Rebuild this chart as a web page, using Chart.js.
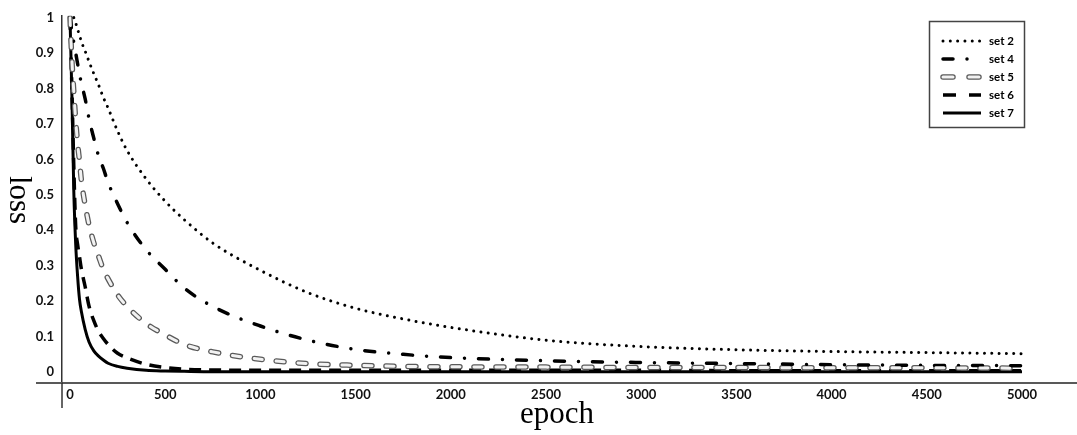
<!DOCTYPE html>
<html>
<head>
<meta charset="utf-8">
<script src="https://cdn.jsdelivr.net/npm/chart.js@4.4.1/dist/chart.umd.min.js"></script>
<style>
  html, body { margin: 0; padding: 0; background: #fff; }
  #wrap { width: 1077px; height: 435px; position: relative; }
</style>
</head>
<body>
<div id="wrap"><canvas id="lossChart"></canvas></div>
<script>
// epochs shared by every series
const epochs = [0, 10, 20, 30, 40, 50, 60, 80, 100, 125, 150, 175, 200, 250, 300,
                400, 500, 600, 750, 1000, 1250, 1500, 1750, 2000, 2500, 3000, 3500, 4000, 4500, 5000];

const set2 = [null, null, 1.0, 0.985, 0.967, 0.95, 0.932, 0.905, 0.876, 0.842, 0.81, 0.775, 0.745, 0.68, 0.625,
              0.545, 0.482, 0.43, 0.364, 0.287, 0.224, 0.18, 0.15, 0.126, 0.09, 0.072, 0.063, 0.058, 0.055, 0.052];
const set4 = [1.0, 0.96, 0.93, 0.9, 0.87, 0.84, 0.815, 0.77, 0.715, 0.66, 0.61, 0.575, 0.535, 0.475, 0.422,
              0.345, 0.29, 0.237, 0.185, 0.13, 0.09, 0.064, 0.05, 0.041, 0.032, 0.027, 0.024, 0.021, 0.019, 0.018];
const set5 = [1.0, 0.88, 0.79, 0.71, 0.645, 0.595, 0.54, 0.47, 0.415, 0.365, 0.327, 0.29, 0.263, 0.218, 0.185,
              0.137, 0.105, 0.078, 0.057, 0.036, 0.024, 0.019, 0.016, 0.015, 0.014, 0.013, 0.013, 0.012, 0.012, 0.011];
const set6 = [1.0, 0.8, 0.58, 0.41, 0.36, 0.325, 0.29, 0.24, 0.186, 0.145, 0.115, 0.095, 0.078, 0.053, 0.04,
              0.022, 0.013, 0.008, 0.006, 0.005, 0.005, 0.005, 0.005, 0.005, 0.005, 0.005, 0.004, 0.004, 0.004, 0.004];
const set7 = [1.0, 0.78, 0.51, 0.36, 0.27, 0.205, 0.17, 0.12, 0.085, 0.06, 0.045, 0.034, 0.025, 0.016, 0.011,
              0.005, 0.003, 0.002, 0.001, 0.001, 0.001, 0.001, 0.001, 0.001, 0.001, 0.001, 0.001, 0.001, 0.001, 0.001];

const seriesNames = ['set 2', 'set 4', 'set 5', 'set 6', 'set 7'];
const xTicks = [0, 500, 1000, 1500, 2000, 2500, 3000, 3500, 4000, 4500, 5000];
const yTicks = [0, 0.1, 0.2, 0.3, 0.4, 0.5, 0.6, 0.7, 0.8, 0.9, 1];

const toPoints = arr => epochs.map((e, i) => ({ x: e, y: arr[i] }));

// line looks, shared by the plotted lines and the legend samples
const looks = {
    'set 2': [{ color: '#000', width: 3, dash: [0.01, 7.3], cap: 'round' }],
    'set 4': [{ color: '#000', width: 3.5, dash: [10, 14, 0.01, 14], cap: 'round' }],
    'set 5': [{ color: '#5a5a5a', width: 5.5, dash: [8, 14], cap: 'round', legendDash: [10, 16] },
              { color: '#f2f2f2', width: 3, dash: [8, 14], cap: 'round', legendDash: [10, 16] }],
    'set 6': [{ color: '#000', width: 3.5, dash: [12, 8], cap: 'butt', legendDash: [13, 13] }],
    'set 7': [{ color: '#000', width: 3, dash: [], cap: 'butt' }]
};
const seriesData = { 'set 2': set2, 'set 4': set4, 'set 5': set5, 'set 6': set6, 'set 7': set7 };

const datasets = [];
seriesNames.forEach(name => {
    looks[name].forEach((lk, k) => {
        datasets.push({
            label: name,
            data: toPoints(seriesData[name]),
            borderColor: lk.color,
            borderWidth: lk.width,
            borderDash: lk.dash,
            borderCapStyle: lk.cap,
            pointRadius: 0,
            fill: false,
            cubicInterpolationMode: 'monotone',
            order: 10 - k
        });
    });
});

const tickFont = { family: 'Lato', weight: 'bold', size: 13 };

// axis extensions, titles and boxed legend like the paper figure
const paperDecor = {
    id: 'paperDecor',
    afterDraw(chart) {
        const ctx = chart.ctx;
        const a = chart.chartArea;
        ctx.save();
        ctx.setLineDash([]);
        ctx.strokeStyle = '#595959';
        ctx.lineWidth = 2;
        ctx.beginPath();
        ctx.moveTo(36, a.bottom);
        ctx.lineTo(a.left, a.bottom);
        ctx.stroke();
        ctx.strokeStyle = '#333';
        ctx.lineWidth = 1.5;
        ctx.beginPath();
        ctx.moveTo(a.left, a.bottom);
        ctx.lineTo(a.left, 408);
        ctx.stroke();

        // axis titles
        ctx.fillStyle = '#000';
        ctx.font = '31px "Liberation Serif"';
        ctx.textAlign = 'center';
        ctx.textBaseline = 'alphabetic';
        ctx.fillText('epoch', 557, 423);
        ctx.save();
        ctx.translate(10, 200);
        ctx.rotate(Math.PI / 2);
        ctx.fillText('loss', 0, 0);
        ctx.restore();

        // legend
        ctx.strokeStyle = '#444';
        ctx.lineWidth = 1.5;
        ctx.strokeRect(929.5, 21.5, 95, 106);
        ctx.font = 'bold 11.5px Lato';
        ctx.textAlign = 'left';
        ctx.textBaseline = 'middle';
        seriesNames.forEach((name, i) => {
            const y = 41 + i * 18;
            looks[name].forEach(lk => {
                ctx.strokeStyle = lk.color;
                ctx.lineWidth = lk.width;
                ctx.lineCap = lk.cap;
                ctx.setLineDash(lk.legendDash || lk.dash);
                ctx.beginPath();
                ctx.moveTo(943, y);
                ctx.lineTo(981, y);
                ctx.stroke();
            });
            ctx.setLineDash([]);
            ctx.fillStyle = '#000';
            ctx.fillText(name, 989, y);
        });
        ctx.restore();
    }
};

new Chart(document.getElementById('lossChart'), {
    type: 'line',
    data: { datasets },
    options: {
        responsive: true,
        maintainAspectRatio: false,
        animation: false,
        layout: { padding: { top: 13, right: 0, left: 0, bottom: 0 } },
        plugins: { legend: { display: false }, tooltip: { enabled: false } },
        scales: {
            x: {
                type: 'linear',
                min: -42,
                max: 5289,
                afterFit: s => { s.height = 52; },
                afterBuildTicks: s => { s.ticks = xTicks.map(v => ({ value: v })); },
                grid: { display: false, drawTicks: false },
                border: { display: true, color: '#595959', width: 2 },
                ticks: { padding: 4, color: '#111', font: tickFont, maxRotation: 0, autoSkip: false,
                         callback: v => String(v) }
            },
            y: {
                type: 'linear',
                min: -0.0308,
                max: 1.0052,
                afterFit: s => { s.width = 62; },
                afterBuildTicks: s => { s.ticks = yTicks.map(v => ({ value: v })); },
                grid: { display: false, drawTicks: false },
                border: { display: true, color: '#333', width: 1.5 },
                ticks: { padding: 8, color: '#111', font: tickFont, autoSkip: false,
                         callback: v => String(Math.round(v * 10) / 10) }
            }
        }
    },
    plugins: [paperDecor]
});
</script>
</body>
</html>
